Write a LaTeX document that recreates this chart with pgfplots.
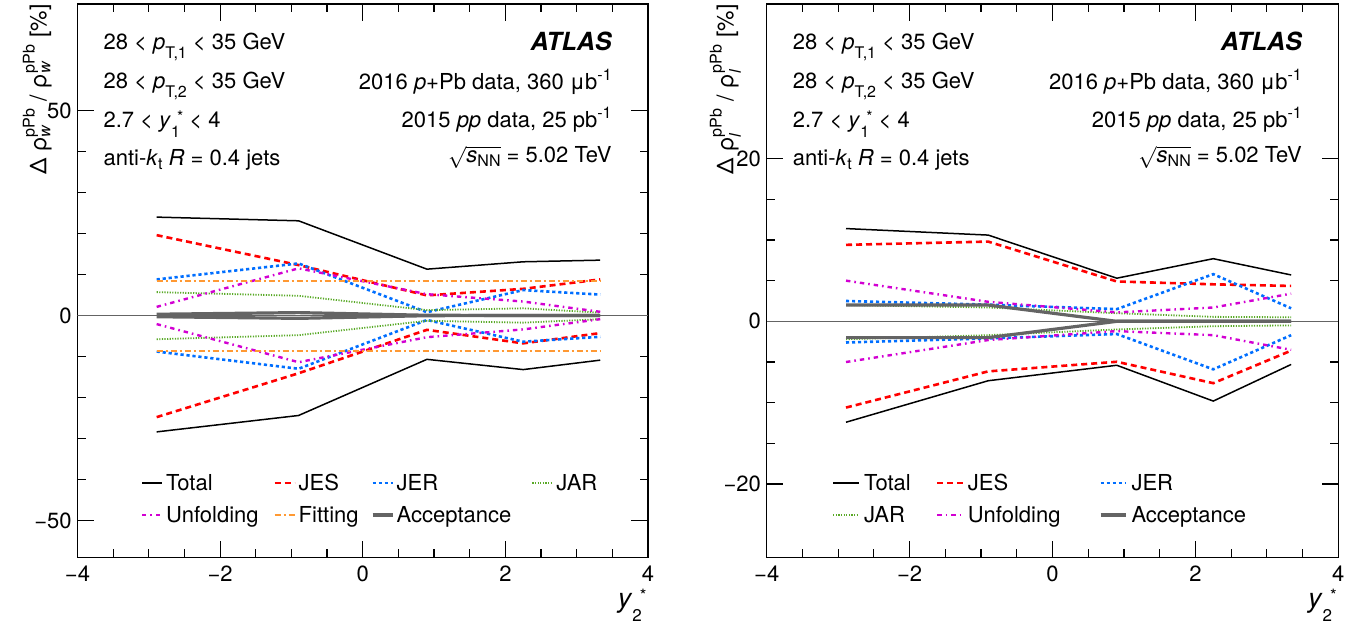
\documentclass[border=0pt]{standalone}
\usepackage{amsmath}
\usepackage{fontspec}
\setmainfont{TeX Gyre Heros}
\usepackage{pgfplots}
\usepackage{pgfplotstable}
\pgfplotsset{compat=1.18}

\definecolor{jesred}{RGB}{255,0,0}
\definecolor{jerblue}{RGB}{0,110,255}
\definecolor{jargreen}{RGB}{90,170,40}
\definecolor{unfmag}{RGB}{210,0,210}
\definecolor{fitorange}{RGB}{255,153,51}
\definecolor{accgray}{RGB}{100,100,100}

% ROOT-like low subscripts and high superscripts
\newcommand{\rsub}[2][4.5pt]{\raisebox{-#1}{\fontsize{8}{8}\selectfont #2}}
\newcommand{\rsup}[2][4.5pt]{\raisebox{#1}{\fontsize{8}{8}\selectfont #2}}

% columns: x, total, JES, JER, JAR, unfolding, fitting, acceptance (up / down)
\pgfplotstableread{
x      tu     td     su    sd     ru    rd     au    ad     uu    ud     fu   fd    cu    cd
-2.89  24.0  -28.4  19.6 -24.8   8.8  -8.8   5.7  -5.8   2.1  -2.1   8.4 -8.6  0.3  -0.3
-0.90  23.1  -24.4  12.3 -14.1  12.7 -13.0   4.8  -4.8  11.5 -11.4   8.4 -8.6  0.7  -0.7
 0.90  11.3  -10.7   4.9  -3.5   0.8  -1.1   1.3  -1.3   5.2  -5.3   8.4 -8.6  0.05 -0.05
 2.25  13.1  -13.2   6.5  -6.8   6.2  -6.4   1.75 -1.75  3.4  -3.4   8.4 -8.6  0.0   0.0
 3.33  13.5  -10.9   8.8  -4.3   5.1  -5.2   0.7  -0.9   0.9  -0.9   8.4 -8.6  0.0   0.0
}\widthdata

\pgfplotstableread{
x      tu     td     su    sd     ru    rd     au    ad     uu    ud     cu   cd
-2.89  11.4  -12.4   9.4 -10.6   2.5  -2.6   2.0  -2.2   5.0  -5.0   2.0 -2.0
-0.90  10.6   -7.3   9.8  -6.15  2.05 -2.1   1.7  -1.7   2.4  -2.3   2.0 -2.0
 0.90   5.3   -5.4   4.9  -4.97  1.5  -1.56  1.0  -1.0   1.1  -1.2   0.0  0.0
 2.25   7.7   -9.8   4.55 -7.6   5.8  -5.9   0.55 -0.6   1.7  -1.7   0.0  0.0
 3.34   5.7   -5.3   4.35 -3.6   1.6  -1.7   0.5  -0.5   3.4  -3.5   0.0  0.0
}\lengthdata

\pgfplotsset{
  totst/.style={black, line width=0.75pt},
  jesst/.style={jesred, line width=1.3pt, dash pattern=on 3pt off 2pt},
  jerst/.style={jerblue, line width=1.3pt, dash pattern=on 1.6pt off 1.4pt},
  jarst/.style={jargreen, line width=0.9pt, dash pattern=on 0.6pt off 0.7pt},
  unfst/.style={unfmag, line width=1.2pt, dash pattern=on 2.2pt off 2pt on 0.8pt off 2pt},
  fitst/.style={fitorange, line width=1.2pt, dash pattern=on 3pt off 1.5pt on 1pt off 1.5pt},
  accst/.style={accgray, line width=1.6pt},
  atlasframe/.style={
    scale only axis,
    xmin=-4, xmax=4,
    xtick={-4,-2,0,2,4},
    xticklabels={−4,−2,0,2,4},
    minor x tick num=3,
    xtick pos=both, ytick pos=both,
    tick align=inside,
    major tick length=8.3pt,
    minor tick length=4.2pt,
    axis line style={line width=0.75pt},
    every tick/.style={black, line width=0.6pt},
    xticklabel style={inner ysep=4pt},
    yticklabel style={inner xsep=2.7pt},
    xlabel={\textit{y}\raisebox{-6.9pt}{\fontsize{8.5}{9}\selectfont 2}\kern-1pt\raisebox{3.4pt}{\fontsize{8.5}{9}\selectfont *}},
    xlabel style={at={(axis description cs:0.998,-0.056)}, anchor=north east,
      inner sep=0pt, font=\fontsize{13.5}{15}\selectfont},
    ylabel style={at={(axis description cs:-0.0447,1)}, anchor=south east,
      inner sep=0pt, font=\fontsize{11.5}{14}\selectfont},
    legend style={draw=none, fill=none, inner sep=0pt, outer sep=0pt,
      column sep=0pt, row sep=6pt, anchor=north west,
      font=\fontsize{11}{13}\selectfont,
      nodes={inner sep=0pt, anchor=base west, text height=7.8pt, text depth=2.2pt}},
  },
}

\begin{document}
\fontsize{11}{13}\selectfont
\begin{tikzpicture}[font=\fontsize{11}{13}\selectfont]
\useasboundingbox (-38.75pt,-34.35pt) rectangle (646.25pt,278.65pt);

\begin{axis}[atlasframe,
  at={(0pt,0pt)}, anchor=south west,
  width=285.25pt, height=276.65pt,
  ymin=-59, ymax=76,
  ytick={-50,0,50}, yticklabels={−50,0,50},
  minor y tick num=4,
  ylabel={Δ ρ$^{\text{pPb}}_{\textit{w}}$ / ρ$^{\text{pPb}}_{\textit{w}}$ [\%]},
  legend columns=4,
  legend image code/.code={\draw[#1] (0pt,3.8pt) -- (10pt,3.8pt); \path[draw=none,fill=none] (0pt,0pt) (12pt,0pt);},
  legend style={at={(rel axis cs:0.111,0.1486)},
    /tikz/column 2/.style={text width=53.7pt},
    /tikz/column 4/.style={text width=36.2pt},
    /tikz/column 6/.style={text width=67.4pt}},
]
\addplot[accgray, line width=0.6pt, forget plot] coordinates {(-4,0) (4,0)};
\addplot[totst] table[x=x,y=tu]{\widthdata};
\addlegendentry{Total}
\addplot[totst, forget plot] table[x=x,y=td]{\widthdata};
\addplot[jesst] table[x=x,y=su]{\widthdata};
\addlegendentry{JES}
\addplot[jesst, forget plot] table[x=x,y=sd]{\widthdata};
\addplot[jerst] table[x=x,y=ru]{\widthdata};
\addlegendentry{JER}
\addplot[jerst, forget plot] table[x=x,y=rd]{\widthdata};
\addplot[jarst] table[x=x,y=au]{\widthdata};
\addlegendentry{JAR}
\addplot[jarst, forget plot] table[x=x,y=ad]{\widthdata};
\addplot[unfst] table[x=x,y=uu]{\widthdata};
\addlegendentry{Unfolding}
\addplot[unfst, forget plot] table[x=x,y=ud]{\widthdata};
\addplot[fitst] table[x=x,y=fu]{\widthdata};
\addlegendentry{Fitting}
\addplot[fitst, forget plot] table[x=x,y=fd]{\widthdata};
\addplot[accst] table[x=x,y=cu]{\widthdata};
\addlegendentry{Acceptance}
\addplot[accst, forget plot] table[x=x,y=cd]{\widthdata};

\node[anchor=base west, inner sep=0pt] at (rel axis cs:0.045,0.9169) {28 < \textit{p}\rsub{T,1} < 35 GeV};
\node[anchor=base west, inner sep=0pt] at (rel axis cs:0.045,0.8477) {28 < \textit{p}\rsub{T,2} < 35 GeV};
\node[anchor=base west, inner sep=0pt] at (rel axis cs:0.045,0.7765) {2.7 < \textit{y}\rsub[5pt]{1}\kern-1.5pt\rsup[2.5pt]{*} < 4};
\node[anchor=base west, inner sep=0pt] at (rel axis cs:0.045,0.7077) {anti-\textit{k}\rsub[2pt]{t} \textit{R} = 0.4 jets};
\node[anchor=base east, inner sep=0pt, font=\fontsize{12.5}{14}\selectfont\bfseries\itshape] at (rel axis cs:0.937,0.9156) {ATLAS};
\node[anchor=base east, inner sep=0pt] at (rel axis cs:0.937,0.8458) {2016 \textit{p}+Pb data, 360 μb\rsup{-1}};
\node[anchor=base east, inner sep=0pt] at (rel axis cs:0.937,0.7765) {2015 \textit{pp} data, 25 pb\rsup{-1}};
\node[anchor=base east, inner sep=0pt] at (rel axis cs:0.937,0.7132) {$\sqrt{\textit{s}\rsub[2pt]{NN}}$ = 5.02 TeV};
\end{axis}

\begin{axis}[atlasframe,
  at={(344.6pt,0pt)}, anchor=south west,
  width=285.8pt, height=276.65pt,
  ymin=-29, ymax=39,
  ytick={-20,0,20}, yticklabels={−20,0,20},
  minor y tick num=3,
  ylabel={Δ ρ$^{\text{pPb}}_{\textit{l}}$ / ρ$^{\text{pPb}}_{\textit{l}}$ [\%]},
  legend columns=3,
  legend image code/.code={\draw[#1] (0pt,3.8pt) -- (12.8pt,3.8pt); \path[draw=none,fill=none] (0pt,0pt) (15.4pt,0pt);},
  legend style={at={(rel axis cs:0.1148,0.1486)},
    /tikz/column 2/.style={text width=35.9pt},
    /tikz/column 4/.style={text width=65.6pt}},
]
\addplot[accgray, line width=0.6pt, forget plot] coordinates {(-4,0) (4,0)};
\addplot[totst] table[x=x,y=tu]{\lengthdata};
\addlegendentry{Total}
\addplot[totst, forget plot] table[x=x,y=td]{\lengthdata};
\addplot[jesst] table[x=x,y=su]{\lengthdata};
\addlegendentry{JES}
\addplot[jesst, forget plot] table[x=x,y=sd]{\lengthdata};
\addplot[jerst] table[x=x,y=ru]{\lengthdata};
\addlegendentry{JER}
\addplot[jerst, forget plot] table[x=x,y=rd]{\lengthdata};
\addplot[jarst] table[x=x,y=au]{\lengthdata};
\addlegendentry{JAR}
\addplot[jarst, forget plot] table[x=x,y=ad]{\lengthdata};
\addplot[unfst] table[x=x,y=uu]{\lengthdata};
\addlegendentry{Unfolding}
\addplot[unfst, forget plot] table[x=x,y=ud]{\lengthdata};
\addplot[accst] table[x=x,y=cu]{\lengthdata};
\addlegendentry{Acceptance}
\addplot[accst, forget plot] table[x=x,y=cd]{\lengthdata};

\node[anchor=base west, inner sep=0pt] at (rel axis cs:0.045,0.9169) {28 < \textit{p}\rsub{T,1} < 35 GeV};
\node[anchor=base west, inner sep=0pt] at (rel axis cs:0.045,0.8477) {28 < \textit{p}\rsub{T,2} < 35 GeV};
\node[anchor=base west, inner sep=0pt] at (rel axis cs:0.045,0.7765) {2.7 < \textit{y}\rsub[5pt]{1}\kern-1.5pt\rsup[2.5pt]{*} < 4};
\node[anchor=base west, inner sep=0pt] at (rel axis cs:0.045,0.7077) {anti-\textit{k}\rsub[2pt]{t} \textit{R} = 0.4 jets};
\node[anchor=base east, inner sep=0pt, font=\fontsize{12.5}{14}\selectfont\bfseries\itshape] at (rel axis cs:0.937,0.9156) {ATLAS};
\node[anchor=base east, inner sep=0pt] at (rel axis cs:0.937,0.8458) {2016 \textit{p}+Pb data, 360 μb\rsup{-1}};
\node[anchor=base east, inner sep=0pt] at (rel axis cs:0.937,0.7765) {2015 \textit{pp} data, 25 pb\rsup{-1}};
\node[anchor=base east, inner sep=0pt] at (rel axis cs:0.937,0.7132) {$\sqrt{\textit{s}\rsub[2pt]{NN}}$ = 5.02 TeV};
\end{axis}
\end{tikzpicture}
\end{document}
